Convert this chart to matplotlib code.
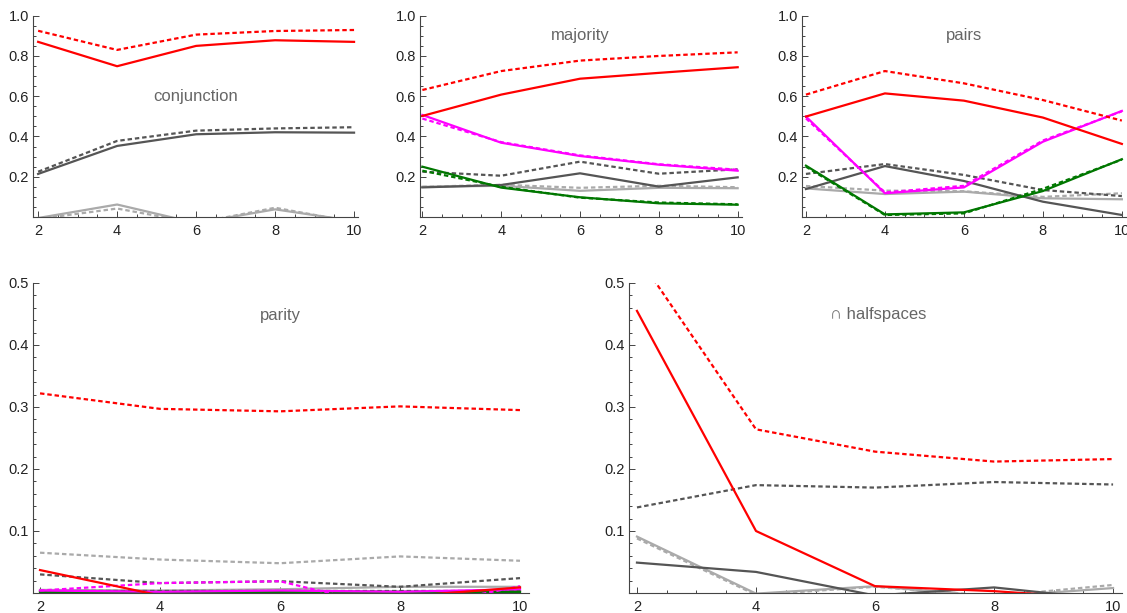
import numpy as np
import matplotlib
matplotlib.use('Agg')
import matplotlib.pyplot as plt
from matplotlib.ticker import MultipleLocator, FixedLocator

plt.rcParams['font.family'] = ['Liberation Sans', 'DejaVu Sans']

n_vals = [2, 4, 6, 8, 10]

# conjunction
conj_red = [0.870, 0.749, 0.850, 0.878, 0.870]
conj_red_d = [0.925, 0.830, 0.906, 0.924, 0.929]
conj_dgray = [0.214, 0.353, 0.411, 0.421, 0.419]
conj_dgray_d = [0.225, 0.378, 0.429, 0.440, 0.446]
conj_lgray = [-0.005, 0.062, -0.030, 0.038, -0.020]
conj_lgray_d = [-0.010, 0.042, -0.030, 0.046, -0.025]

# majority
maj_red = [0.502, 0.608, 0.687, 0.716, 0.744]
maj_red_d = [0.631, 0.725, 0.777, 0.800, 0.818]
maj_dgray = [0.147, 0.159, 0.217, 0.151, 0.197]
maj_dgray_d = [0.225, 0.205, 0.275, 0.215, 0.237]
maj_lgray = [0.150, 0.155, 0.130, 0.145, 0.143]
maj_lgray_d = [0.150, 0.160, 0.145, 0.155, 0.148]
maj_mag = [0.507, 0.369, 0.303, 0.260, 0.230]
maj_mag_d = [0.489, 0.372, 0.306, 0.262, 0.235]
maj_green = [0.250, 0.146, 0.098, 0.068, 0.061]
maj_green_d = [0.230, 0.150, 0.096, 0.072, 0.063]

# pairs
pairs_red = [0.499, 0.614, 0.578, 0.494, 0.363]
pairs_red_d = [0.608, 0.725, 0.664, 0.581, 0.479]
pairs_dgray = [0.139, 0.253, 0.179, 0.076, 0.010]
pairs_dgray_d = [0.214, 0.263, 0.209, 0.134, 0.104]
pairs_lgray = [0.142, 0.114, 0.126, 0.093, 0.088]
pairs_lgray_d = [0.154, 0.131, 0.128, 0.100, 0.118]
pairs_mag = [0.499, 0.118, 0.147, 0.374, 0.527]
pairs_mag_d = [0.490, 0.122, 0.155, 0.380, 0.525]
pairs_green = [0.255, 0.013, 0.023, 0.129, 0.287]
pairs_green_d = [0.250, 0.010, 0.018, 0.140, 0.285]

# parity
par_red = [0.037, -0.004, -0.010, -0.006, 0.009]
par_red_d = [0.322, 0.297, 0.293, 0.301, 0.295]
par_dgray = [0.003, 0.002, 0.003, 0.002, 0.003]
par_dgray_d = [0.030, 0.016, 0.019, 0.010, 0.024]
par_lgray = [0.005, 0.004, 0.006, 0.010, 0.010]
par_lgray_d = [0.065, 0.054, 0.048, 0.059, 0.052]
par_mag = [0.004, 0.002, 0.004, 0.002, 0.006]
par_mag_d = [0.004, 0.016, 0.019, -0.028, 0.011]
par_green = [0.002, 0.002, 0.002, 0.002, 0.002]
par_green_d = [0.003, 0.003, 0.003, 0.003, 0.003]

# intersection of halfspaces
hs_red = [0.455, 0.100, 0.011, 0.003, -0.010]
hs_red_d = [0.545, 0.264, 0.228, 0.212, 0.216]
hs_dgray = [0.049, 0.034, -0.004, 0.009, -0.011]
hs_dgray_d = [0.138, 0.174, 0.170, 0.179, 0.175]
hs_lgray = [0.091, -0.001, 0.011, -0.006, 0.008]
hs_lgray_d = [0.088, -0.003, 0.010, -0.005, 0.013]

RED = '#ff0000'
DGRAY = '#555555'
LGRAY = '#aaaaaa'
MAG = '#ff00ff'
GREEN = '#007700'

W, H = 1127, 613
fig = plt.figure(figsize=(W / 100, H / 100), dpi=100)


def make_ax(left, right, top, bottom, xlim, ylim, major, minor):
    ax = fig.add_axes([left / W, 1 - bottom / H, (right - left) / W, (bottom - top) / H])
    ax.set_xlim(*xlim)
    ax.set_ylim(*ylim)
    for s in ['top', 'right']:
        ax.spines[s].set_visible(False)
    for s in ['left', 'bottom']:
        ax.spines[s].set_color('#444444')
        ax.spines[s].set_linewidth(0.8)
    ax.xaxis.set_major_locator(FixedLocator(n_vals))
    ax.xaxis.set_minor_locator(MultipleLocator(0.5))
    ax.yaxis.set_major_locator(FixedLocator(major))
    ax.yaxis.set_minor_locator(MultipleLocator(minor))
    ax.set_yticklabels(['%.1f' % v for v in major])
    ax.tick_params(which='both', direction='in', color='#444444', width=0.7,
                   labelsize=10.5, labelcolor='#222222')
    ax.tick_params(which='major', length=4)
    ax.tick_params(which='minor', length=2)
    ax.tick_params(axis='x', pad=5)
    ax.tick_params(axis='y', pad=3)
    ax.patch.set_alpha(0)
    return ax


def draw(ax, series):
    for vals, col, dashed in series:
        if dashed:
            ax.plot(n_vals, vals, color=col, lw=1.6, dashes=(2, 1.3))
        else:
            ax.plot(n_vals, vals, color=col, lw=1.6)


top_major = [0.2, 0.4, 0.6, 0.8, 1.0]
bot_major = [0.1, 0.2, 0.3, 0.4, 0.5]

ax1 = make_ax(33, 358, 15.7, 217, (1.87, 10.1), (0, 1.0), top_major, 0.05)
draw(ax1, [(conj_lgray, LGRAY, False), (conj_lgray_d, LGRAY, True),
           (conj_dgray, DGRAY, False), (conj_dgray_d, DGRAY, True),
           (conj_red, RED, False), (conj_red_d, RED, True)])
ax1.text(6, 0.6, 'conjunction', color='#666666', fontsize=12, ha='center', va='center')

ax2 = make_ax(420, 742, 15.7, 217, (1.94, 10.11), (0, 1.0), top_major, 0.05)
draw(ax2, [(maj_lgray, LGRAY, False), (maj_lgray_d, LGRAY, True),
           (maj_dgray, DGRAY, False), (maj_dgray_d, DGRAY, True),
           (maj_green, GREEN, False), (maj_green_d, GREEN, True),
           (maj_mag, MAG, False), (maj_mag_d, MAG, True),
           (maj_red, RED, False), (maj_red_d, RED, True)])
ax2.text(6, 0.9, 'majority', color='#666666', fontsize=12, ha='center', va='center')

ax3 = make_ax(802, 1127, 15.7, 217, (1.9, 10.13), (0, 1.0), top_major, 0.05)
draw(ax3, [(pairs_lgray, LGRAY, False), (pairs_lgray_d, LGRAY, True),
           (pairs_dgray, DGRAY, False), (pairs_dgray_d, DGRAY, True),
           (pairs_green, GREEN, False), (pairs_green_d, GREEN, True),
           (pairs_mag, MAG, False), (pairs_mag_d, MAG, True),
           (pairs_red, RED, False), (pairs_red_d, RED, True)])
ax3.text(6, 0.9, 'pairs', color='#666666', fontsize=12, ha='center', va='center')

ax4 = make_ax(33, 529, 283, 593, (1.883, 10.15), (0, 0.5), bot_major, 0.02)
draw(ax4, [(par_lgray, LGRAY, False), (par_lgray_d, LGRAY, True),
           (par_dgray, DGRAY, False), (par_dgray_d, DGRAY, True),
           (par_green, GREEN, False), (par_green_d, GREEN, True),
           (par_mag, MAG, False), (par_mag_d, MAG, True),
           (par_red, RED, False), (par_red_d, RED, True)])
ax4.text(6, 0.447, 'parity', color='#666666', fontsize=12, ha='center', va='center')

ax5 = make_ax(629, 1122, 283, 593, (1.866, 10.15), (0, 0.5), bot_major, 0.02)
draw(ax5, [(hs_lgray, LGRAY, False), (hs_lgray_d, LGRAY, True),
           (hs_dgray, DGRAY, False), (hs_dgray_d, DGRAY, True),
           (hs_red, RED, False), (hs_red_d, RED, True)])
ax5.text(6.05, 0.45, '\u2229 halfspaces', color='#666666', fontsize=12, ha='center', va='center')

fig.savefig('out.png', dpi=100)
